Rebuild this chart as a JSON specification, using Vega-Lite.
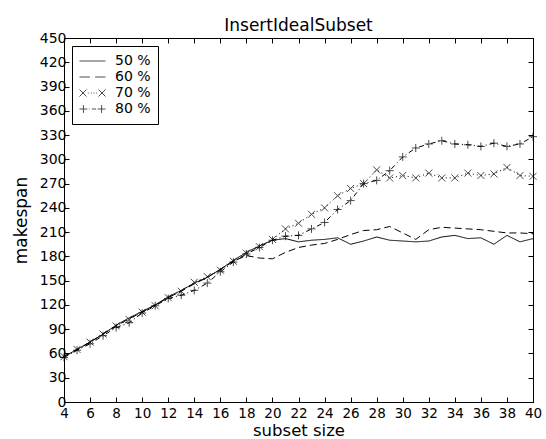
{
  "$schema": "https://vega.github.io/schema/vega-lite/v6.json",
  "width": 469,
  "height": 364,
  "autosize": {"type": "none"},
  "padding": {"left": 64, "top": 38, "right": 13, "bottom": 37},
  "background": "white",
  "title": {"text": "InsertIdealSubset", "fontSize": 17, "font": "DejaVu Sans", "fontWeight": "normal", "color": "black", "offset": -4},
  "config": {
    "font": "DejaVu Sans",
    "view": {"stroke": "black", "strokeWidth": 1},
    "axis": {"grid": false, "domainColor": "black", "tickColor": "black", "labelColor": "black", "titleColor": "black", "tickSize": -5, "labelFontSize": 14, "titleFontSize": 17, "titleFontWeight": "normal", "labelFont": "DejaVu Sans", "titleFont": "DejaVu Sans"}
  },
  "datasets": {
    "d": [
      {"x":4,"v":56,"s":"50 %"},{"x":5,"v":65,"s":"50 %"},{"x":6,"v":74,"s":"50 %"},{"x":7,"v":84,"s":"50 %"},{"x":8,"v":95,"s":"50 %"},{"x":9,"v":104,"s":"50 %"},{"x":10,"v":112,"s":"50 %"},{"x":11,"v":120,"s":"50 %"},{"x":12,"v":130,"s":"50 %"},{"x":13,"v":138,"s":"50 %"},{"x":14,"v":147,"s":"50 %"},{"x":15,"v":154,"s":"50 %"},{"x":16,"v":164,"s":"50 %"},{"x":17,"v":175,"s":"50 %"},{"x":18,"v":185,"s":"50 %"},{"x":19,"v":193,"s":"50 %"},{"x":20,"v":200,"s":"50 %"},{"x":21,"v":202,"s":"50 %"},{"x":22,"v":198,"s":"50 %"},{"x":23,"v":200,"s":"50 %"},{"x":24,"v":201,"s":"50 %"},{"x":25,"v":203,"s":"50 %"},{"x":26,"v":195,"s":"50 %"},{"x":27,"v":199,"s":"50 %"},{"x":28,"v":204,"s":"50 %"},{"x":29,"v":200,"s":"50 %"},{"x":30,"v":199,"s":"50 %"},{"x":31,"v":198,"s":"50 %"},{"x":32,"v":199,"s":"50 %"},{"x":33,"v":204,"s":"50 %"},{"x":34,"v":206,"s":"50 %"},{"x":35,"v":202,"s":"50 %"},{"x":36,"v":203,"s":"50 %"},{"x":37,"v":195,"s":"50 %"},{"x":38,"v":206,"s":"50 %"},{"x":39,"v":198,"s":"50 %"},{"x":40,"v":202,"s":"50 %"},
      {"x":4,"v":56,"s":"60 %"},{"x":5,"v":65,"s":"60 %"},{"x":6,"v":74,"s":"60 %"},{"x":7,"v":84,"s":"60 %"},{"x":8,"v":94,"s":"60 %"},{"x":9,"v":103,"s":"60 %"},{"x":10,"v":111,"s":"60 %"},{"x":11,"v":120,"s":"60 %"},{"x":12,"v":129,"s":"60 %"},{"x":13,"v":137,"s":"60 %"},{"x":14,"v":146,"s":"60 %"},{"x":15,"v":154,"s":"60 %"},{"x":16,"v":164,"s":"60 %"},{"x":17,"v":174,"s":"60 %"},{"x":18,"v":181,"s":"60 %"},{"x":19,"v":178,"s":"60 %"},{"x":20,"v":177,"s":"60 %"},{"x":21,"v":185,"s":"60 %"},{"x":22,"v":191,"s":"60 %"},{"x":23,"v":194,"s":"60 %"},{"x":24,"v":196,"s":"60 %"},{"x":25,"v":201,"s":"60 %"},{"x":26,"v":207,"s":"60 %"},{"x":27,"v":212,"s":"60 %"},{"x":28,"v":213,"s":"60 %"},{"x":29,"v":217,"s":"60 %"},{"x":30,"v":209,"s":"60 %"},{"x":31,"v":201,"s":"60 %"},{"x":32,"v":213,"s":"60 %"},{"x":33,"v":216,"s":"60 %"},{"x":34,"v":215,"s":"60 %"},{"x":35,"v":214,"s":"60 %"},{"x":36,"v":213,"s":"60 %"},{"x":37,"v":211,"s":"60 %"},{"x":38,"v":209,"s":"60 %"},{"x":39,"v":209,"s":"60 %"},{"x":40,"v":208,"s":"60 %"},
      {"x":4,"v":56,"s":"70 %"},{"x":5,"v":65,"s":"70 %"},{"x":6,"v":74,"s":"70 %"},{"x":7,"v":84,"s":"70 %"},{"x":8,"v":94,"s":"70 %"},{"x":9,"v":102,"s":"70 %"},{"x":10,"v":111,"s":"70 %"},{"x":11,"v":119,"s":"70 %"},{"x":12,"v":129,"s":"70 %"},{"x":13,"v":137,"s":"70 %"},{"x":14,"v":148,"s":"70 %"},{"x":15,"v":155,"s":"70 %"},{"x":16,"v":163,"s":"70 %"},{"x":17,"v":174,"s":"70 %"},{"x":18,"v":184,"s":"70 %"},{"x":19,"v":192,"s":"70 %"},{"x":20,"v":201,"s":"70 %"},{"x":21,"v":214,"s":"70 %"},{"x":22,"v":221,"s":"70 %"},{"x":23,"v":232,"s":"70 %"},{"x":24,"v":240,"s":"70 %"},{"x":25,"v":255,"s":"70 %"},{"x":26,"v":264,"s":"70 %"},{"x":27,"v":270,"s":"70 %"},{"x":28,"v":287,"s":"70 %"},{"x":29,"v":277,"s":"70 %"},{"x":30,"v":280,"s":"70 %"},{"x":31,"v":277,"s":"70 %"},{"x":32,"v":283,"s":"70 %"},{"x":33,"v":277,"s":"70 %"},{"x":34,"v":277,"s":"70 %"},{"x":35,"v":283,"s":"70 %"},{"x":36,"v":280,"s":"70 %"},{"x":37,"v":282,"s":"70 %"},{"x":38,"v":290,"s":"70 %"},{"x":39,"v":280,"s":"70 %"},{"x":40,"v":279,"s":"70 %"},
      {"x":4,"v":55,"s":"80 %"},{"x":5,"v":64,"s":"80 %"},{"x":6,"v":72,"s":"80 %"},{"x":7,"v":82,"s":"80 %"},{"x":8,"v":92,"s":"80 %"},{"x":9,"v":98,"s":"80 %"},{"x":10,"v":110,"s":"80 %"},{"x":11,"v":119,"s":"80 %"},{"x":12,"v":128,"s":"80 %"},{"x":13,"v":132,"s":"80 %"},{"x":14,"v":138,"s":"80 %"},{"x":15,"v":147,"s":"80 %"},{"x":16,"v":161,"s":"80 %"},{"x":17,"v":173,"s":"80 %"},{"x":18,"v":183,"s":"80 %"},{"x":19,"v":191,"s":"80 %"},{"x":20,"v":200,"s":"80 %"},{"x":21,"v":205,"s":"80 %"},{"x":22,"v":206,"s":"80 %"},{"x":23,"v":214,"s":"80 %"},{"x":24,"v":222,"s":"80 %"},{"x":25,"v":238,"s":"80 %"},{"x":26,"v":249,"s":"80 %"},{"x":27,"v":270,"s":"80 %"},{"x":28,"v":274,"s":"80 %"},{"x":29,"v":286,"s":"80 %"},{"x":30,"v":303,"s":"80 %"},{"x":31,"v":314,"s":"80 %"},{"x":32,"v":319,"s":"80 %"},{"x":33,"v":323,"s":"80 %"},{"x":34,"v":319,"s":"80 %"},{"x":35,"v":318,"s":"80 %"},{"x":36,"v":316,"s":"80 %"},{"x":37,"v":320,"s":"80 %"},{"x":38,"v":316,"s":"80 %"},{"x":39,"v":319,"s":"80 %"},{"x":40,"v":328,"s":"80 %"}
    ],
    "leg": [
      {"series": "50 %"}, {"series": "60 %"}, {"series": "70 %"}, {"series": "80 %"}
    ]
  },
  "resolve": {"axis": {"x": "independent", "y": "independent"}},
  "layer": [
    {
      "data": {"name": "d"},
      "mark": {"type": "line", "stroke": "black", "strokeWidth": 1},
      "encoding": {
        "x": {"field": "x", "type": "quantitative", "scale": {"domain": [4, 40], "nice": false, "zero": false},
              "axis": {"orient": "bottom", "values": [4,6,8,10,12,14,16,18,20,22,24,26,28,30,32,34,36,38,40], "title": "subset size", "labelPadding": 9, "titlePadding": 3, "labelFlush": false, "labelFontSize": 13.5, "titleFontSize": 16.5}},
        "y": {"field": "v", "type": "quantitative", "scale": {"domain": [0, 450], "nice": false},
              "axis": {"orient": "left", "values": [0,30,60,90,120,150,180,210,240,270,300,330,360,390,420,450], "title": "makespan", "labelPadding": 3, "titlePadding": 9}},
        "detail": {"field": "s"},
        "strokeDash": {"field": "s", "type": "nominal",
          "scale": {"domain": ["50 %", "60 %", "70 %", "80 %"], "range": [[1, 0], [7, 4], [1, 3], [5, 3, 1, 3]]},
          "legend": null
        }
      }
    },
    {
      "data": {"name": "d"},
      "transform": [{"filter": "datum.s === '70 %'"}],
      "mark": {"type": "point", "shape": "M-1,-1L1,1M-1,1L1,-1", "size": 49, "filled": false, "stroke": "black", "strokeWidth": 1},
      "encoding": {
        "x": {"field": "x", "type": "quantitative", "axis": {"orient": "top", "values": [4,6,8,10,12,14,16,18,20,22,24,26,28,30,32,34,36,38,40], "labels": false, "title": null}},
        "y": {"field": "v", "type": "quantitative", "axis": {"orient": "right", "values": [0,30,60,90,120,150,180,210,240,270,300,330,360,390,420,450], "labels": false, "title": null}}
      }
    },
    {
      "data": {"name": "d"},
      "transform": [{"filter": "datum.s === '80 %'"}],
      "mark": {"type": "point", "shape": "M-1,0L1,0M0,-1L0,1", "size": 64, "filled": false, "stroke": "black", "strokeWidth": 1},
      "encoding": {
        "x": {"field": "x", "type": "quantitative", "axis": null},
        "y": {"field": "v", "type": "quantitative", "axis": null}
      }
    },
    {
      "data": {"name": "leg"},
      "mark": {"type": "point", "filled": false, "stroke": "black", "strokeWidth": 1, "size": 0},
      "encoding": {
        "shape": {"field": "series", "type": "nominal",
          "scale": {"range": [
            "M-1,0L1,0",
            "M-1,0L-0.2,0M0.2,0L1,0",
            "M-1,-0.27L-0.46,0.27M-1,0.27L-0.46,-0.27M0.46,-0.27L1,0.27M0.46,0.27L1,-0.27M-0.36,0L-0.29,0M-0.12,0L-0.05,0M0.08,0L0.15,0M0.28,0L0.35,0",
            "M-1,0L-0.4,0M-0.7,-0.3L-0.7,0.3M0.4,0L1,0M0.7,-0.3L0.7,0.3M-0.28,0L-0.22,0M-0.05,0L0.28,0"
          ]},
          "legend": {
            "title": null, "orient": "top-left", "offset": 8, "padding": 7,
            "strokeColor": "black", "fillColor": "white",
            "labelFontSize": 14, "labelFont": "DejaVu Sans", "labelColor": "black", "labelOffset": 9,
            "symbolSize": 676, "symbolStrokeColor": "black", "symbolFillColor": "transparent", "symbolStrokeWidth": 1,
            "clipHeight": 16, "rowPadding": 0
          }
        }
      }
    }
  ]
}
